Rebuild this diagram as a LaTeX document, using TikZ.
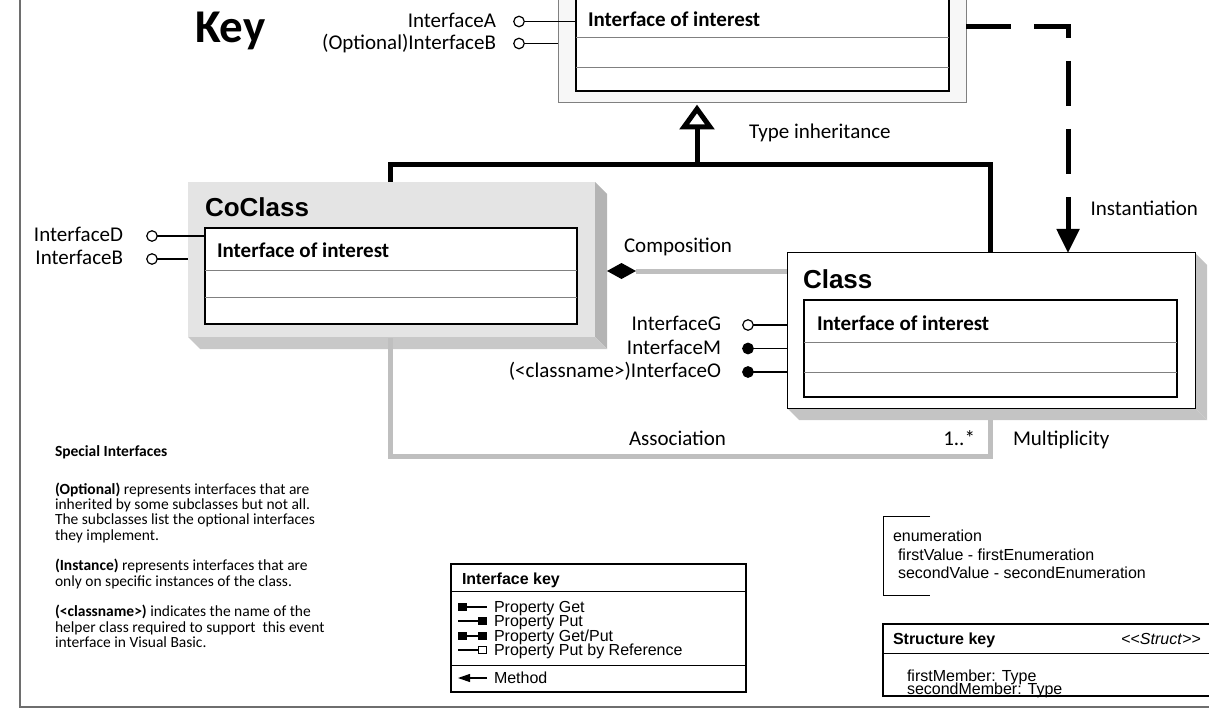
\documentclass[tikz,border=0pt]{standalone}
\usepackage{fontspec}
\setmainfont{Carlito}
\newfontfamily\arialf{Liberation Sans}
\usetikzlibrary{arrows.meta}
\definecolor{lgray}{RGB}{191,191,191}
\definecolor{facegray}{RGB}{228,228,228}
\definecolor{sidegray}{RGB}{180,180,180}
\definecolor{botgray}{RGB}{200,200,200}
\definecolor{shgray}{RGB}{196,196,196}
\definecolor{sepgray}{RGB}{128,128,128}
\definecolor{bordergray}{RGB}{110,110,110}
\definecolor{keyfill}{RGB}{247,247,247}
\begin{document}
\begin{tikzpicture}[x=1pt,y=-1pt,
  every node/.style={inner sep=0pt,outer sep=0pt},
  lbl/.style={font=\fontsize{21}{25}\selectfont},
  lblb/.style={font=\bfseries\fontsize{21}{25}\selectfont},
  clsname/.style={font=\arialf\bfseries\fontsize{26}{30}\selectfont},
  note/.style={font=\fontsize{15.5}{15.33}\selectfont},
  ar/.style={font=\arialf\fontsize{16}{18}\selectfont},
  arbig/.style={font=\arialf\fontsize{21}{25}\selectfont},
  boxline/.style={draw=black,line width=1.5pt,fill=white},
  sepline/.style={draw=sepgray,line width=1pt},
  inherit/.style={draw=black,line width=5pt},
  graylink/.style={draw=lgray,line width=5pt},
  ifline/.style={draw=black,line width=1.1pt},
  opencirc/.style={circle,draw=black,line width=1.2pt,fill=white,minimum size=10.5pt},
  fullcirc/.style={circle,draw=black,fill=black,line width=1.2pt,minimum size=10.5pt},
  keybox/.style={draw=black,line width=1.3pt,anchor=north west},
  ]
\useasboundingbox (0,0) rectangle (1209,719);

% outer frame
\draw[draw=bordergray,line width=1.5pt] (20,-2) -- (20,707) -- (1211,707);

% Key title
\node[anchor=base west,font=\bfseries\fontsize{47}{50}\selectfont] (keyword) at (195,43) {Key};

% ---------- key box ----------
\node[draw=sepgray,line width=1pt,fill=keyfill,anchor=north west,minimum width=408pt,minimum height=118pt] (keyout) at (558,-15) {};
\node[boxline,anchor=north west,minimum width=373pt,minimum height=106pt] (keyin) at (576,-15) {};
\draw[sepline] (keyin.west |- 0,38) -- (keyin.east |- 0,38);
\draw[sepline] (keyin.west |- 0,68) -- (keyin.east |- 0,68);
\node[lblb,anchor=base west] (keytxt) at (588,27) {Interface of interest};

% key interfaces
\node[opencirc] (ciA) at (519,21.5) {};
\node[opencirc] (ciB) at (519,43.5) {};
\draw[ifline] (ciA.east) -- (keyin.west |- ciA);
\draw[ifline] (ciB.east) -- (keyout.west |- ciB);
\node[lbl,anchor=base east] (ifA) at (496,27.5) {InterfaceA};
\node[lbl,anchor=base east] (ifB) at (496,50) {(Optional)InterfaceB};

% ---------- CoClass ----------
\fill[sidegray] (595,182) -- (607,194) -- (607,349) -- (595,337) -- cycle;
\fill[botgray] (188,337) -- (200,349) -- (607,349) -- (595,337) -- cycle;
\node[fill=facegray,anchor=north west,minimum width=407pt,minimum height=155pt] (coclass) at (188,182) {};
\node[boxline,anchor=north west,minimum width=372pt,minimum height=96pt] (coin) at (205,228) {};
\draw[sepline] (coin.west |- 0,270) -- (coin.east |- 0,270);
\draw[sepline] (coin.west |- 0,297) -- (coin.east |- 0,297);
\node[clsname,anchor=base west] (coname) at (205,217) {CoClass};
\node[lblb,anchor=base west] (cotxt) at (217,258) {Interface of interest};

\node[opencirc] (ciD) at (152,236) {};
\node[opencirc] (ciB2) at (152,259) {};
\draw[ifline] (ciD.east) -- (coin.west |- ciD);
\draw[ifline] (ciB2.east) -- (coclass.west |- ciB2);
\node[lbl,anchor=base east] (ifD) at (123,241.5) {InterfaceD};
\node[lbl,anchor=base east] (ifB2) at (123,264.5) {InterfaceB};

% ---------- Class ----------
\fill[shgray] (1195,253) -- (1207,265) -- (1207,420) -- (1195,408) -- cycle;
\fill[shgray] (787,408) -- (799,420) -- (1207,420) -- (1195,408) -- cycle;
\node[draw=black,line width=1pt,fill=white,anchor=north west,minimum width=408pt,minimum height=155pt] (class) at (787,253) {};
\node[boxline,anchor=north west,minimum width=373pt,minimum height=97pt] (clin) at (804,300) {};
\draw[sepline] (clin.west |- 0,342) -- (clin.east |- 0,342);
\draw[sepline] (clin.west |- 0,372) -- (clin.east |- 0,372);
\node[clsname,anchor=base west] (clname) at (803,288) {Class};
\node[lblb,anchor=base west] (cltxt) at (817,330) {Interface of interest};

\node[opencirc] (ciG) at (748,325) {};
\node[fullcirc] (ciM) at (748,348.5) {};
\node[fullcirc] (ciO) at (748,372) {};
\draw[ifline] (ciG.east) -- (class.west |- ciG);
\draw[ifline] (ciM.east) -- (class.west |- ciM);
\draw[ifline] (ciO.east) -- (class.west |- ciO);
\node[lbl,anchor=base east] (ifG) at (721,330) {InterfaceG};
\node[lbl,anchor=base east] (ifM) at (721,354) {InterfaceM};
\node[lbl,anchor=base east] (ifO) at (721,377.5) {(<classname>)InterfaceO};

% ---------- inheritance ----------
\coordinate (cotop) at (390,182);
\coordinate (cltop) at (990,253);
\coordinate (junc) at (697,165);
\coordinate (tribase) at (697,127);
\draw[inherit,line join=miter] (cotop) |- (junc) -| (cltop);
\draw[inherit] (junc) -- (tribase);
\draw[inherit,fill=white,line join=miter] (697,109) -- (710,127) -- (684,127) -- cycle;
\node[lbl,anchor=base west] (tinh) at (749,139) {Type inheritance};

% ---------- instantiation ----------
\coordinate (instStart) at (keyout.east |- 0,27);
\coordinate (clinst) at (1068,253);
\draw[line width=5pt,dash pattern=on 45pt off 23pt,-{Triangle[length=24pt,width=22pt]}] (instStart) -| (clinst);
\node[lbl,anchor=base east] (instlbl) at (1198,216) {Instantiation};

% ---------- composition ----------
\coordinate (comp) at (636,271);
\draw[graylink] (comp) -- (class.west |- comp);
\fill[black] (607,271) -- (621.5,263) -- (636,271) -- (621.5,279) -- cycle;
\node[lbl,anchor=base west] (complbl) at (624,252) {Composition};

% ---------- association ----------
\coordinate (asS) at (390,338);
\coordinate (asE) at (990,420);
\coordinate (asB) at (690,456);
\draw[graylink,line join=miter] (asS) |- (asB) -| (asE);
\node[lbl,anchor=base west] (aslbl) at (629,445) {Association};
\node[lbl,anchor=base east] (mult1) at (975,445) {1..*};
\node[lbl,anchor=base west] (multlbl) at (1013,445) {Multiplicity};

% ---------- special interfaces note ----------
\node[note,font=\bfseries\fontsize{15.5}{15}\selectfont,anchor=base west] (sp0) at (55,456.5) {Special Interfaces};
\node[note,anchor=base west] (sp1) at (55,494) {\textbf{(Optional)} represents interfaces that are};
\node[note,anchor=base west] (sp2) at (55,509.3) {inherited by some subclasses but not all.};
\node[note,anchor=base west] (sp3) at (55,524.6) {The subclasses list the optional interfaces};
\node[note,anchor=base west] (sp4) at (55,540) {they implement.};
\node[note,anchor=base west] (sp5) at (55,570.6) {\textbf{(Instance)} represents interfaces that are};
\node[note,anchor=base west] (sp6) at (55,586) {only on specific instances of the class.};
\node[note,anchor=base west] (sp7) at (55,616.7) {\textbf{(<classname>)} indicates the name of the};
\node[note,anchor=base west] (sp8) at (55,632) {helper class required to support\ \ this event};
\node[note,anchor=base west] (sp9) at (55,647.3) {interface in Visual Basic.};

% ---------- inbound / outbound legend ----------
\coordinate (incEnd) at (512,581);
\coordinate (outEnd) at (512,610);
\node[opencirc] (inc) at (457,581) {};
\node[fullcirc] (outc) at (457,610) {};
\draw[ifline] (inc.east) -- (incEnd);
\draw[ifline] (outc.east) -- (outEnd);
\node[arbig,anchor=base west] (inlbl) at (530,588.5) {Inbound Interface};
\node[arbig,anchor=base west] (outlbl) at (530,617.5) {Outbound Interface};

% ---------- interface key ----------
\node[keybox,fill=white,minimum width=295pt,minimum height=128pt] (ikey) at (451,564) {};
\draw[line width=1pt] (ikey.west |- 0,591) -- (ikey.east |- 0,591);
\draw[line width=1pt] (ikey.west |- 0,665) -- (ikey.east |- 0,665);
\node[ar,font=\arialf\bfseries\fontsize{16}{18}\selectfont,anchor=base west] (ikeyh) at (462,584.5) {Interface key};
% icons
\node[fill=black,minimum width=9pt,minimum height=8pt] (g1) at (462.5,607) {};
\coordinate (g1e) at (487,607);
\draw[line width=1.1pt] (g1) -- (g1e);
\coordinate (p1s) at (458,621);
\node[fill=black,minimum width=9pt,minimum height=8pt] (p1) at (482.5,621) {};
\draw[line width=1.1pt] (p1s) -- (p1);
\node[fill=black,minimum width=9pt,minimum height=8pt] (gp1) at (462.5,636) {};
\node[fill=black,minimum width=9pt,minimum height=8pt] (gp2) at (482.5,636) {};
\draw[line width=1.1pt] (gp1) -- (gp2);
\coordinate (r1s) at (458,650);
\node[draw=black,fill=white,line width=1pt,minimum width=8pt,minimum height=7pt] (r1) at (482.5,650) {};
\draw[line width=1.1pt] (r1s) -- (r1);
\coordinate (m1e) at (487,678);
\coordinate (m1t) at (458,678);
\draw[line width=1.1pt,-{Triangle[length=12pt,width=8pt]}] (m1e) -- (m1t);
\node[ar,anchor=base west] (ik1) at (494,612.3) {Property Get};
\node[ar,anchor=base west] (ik2) at (494,626) {Property Put};
\node[ar,anchor=base west] (ik3) at (494,641.3) {Property Get/Put};
\node[ar,anchor=base west] (ik4) at (494,655.5) {Property Put by Reference};
\node[ar,anchor=base west] (ik5) at (494,683.3) {Method};

% ---------- enumeration ----------
\draw[line width=1pt] (930,516) -- (883,516) -- (883,595) -- (930,595);
\node[ar,anchor=base west] (en1) at (893,541.7) {enumeration};
\node[ar,anchor=base west] (en2) at (898,560) {firstValue - firstEnumeration};
\node[ar,anchor=base west] (en3) at (898,578.3) {secondValue - secondEnumeration};

% ---------- structure key ----------
\node[ar,font=\arialf\bfseries\fontsize{16}{18}\selectfont,anchor=base west] (sk0) at (893,644) {Structure key};
\node[ar,anchor=base east] (sk1) at (1201,644) {<{}<\textit{Struct}>{}>};
\node[ar,anchor=base west] (sk2) at (907,681.7) {firstMember: Type};
\node[ar,anchor=base west] (sk3) at (907,694.3) {secondMember: Type};
\node[keybox,minimum width=335pt,minimum height=72pt] (skey) at (883,624) {};
\draw[line width=1pt] (skey.west |- 0,653) -- (skey.east |- 0,653);
\end{tikzpicture}
\end{document}
